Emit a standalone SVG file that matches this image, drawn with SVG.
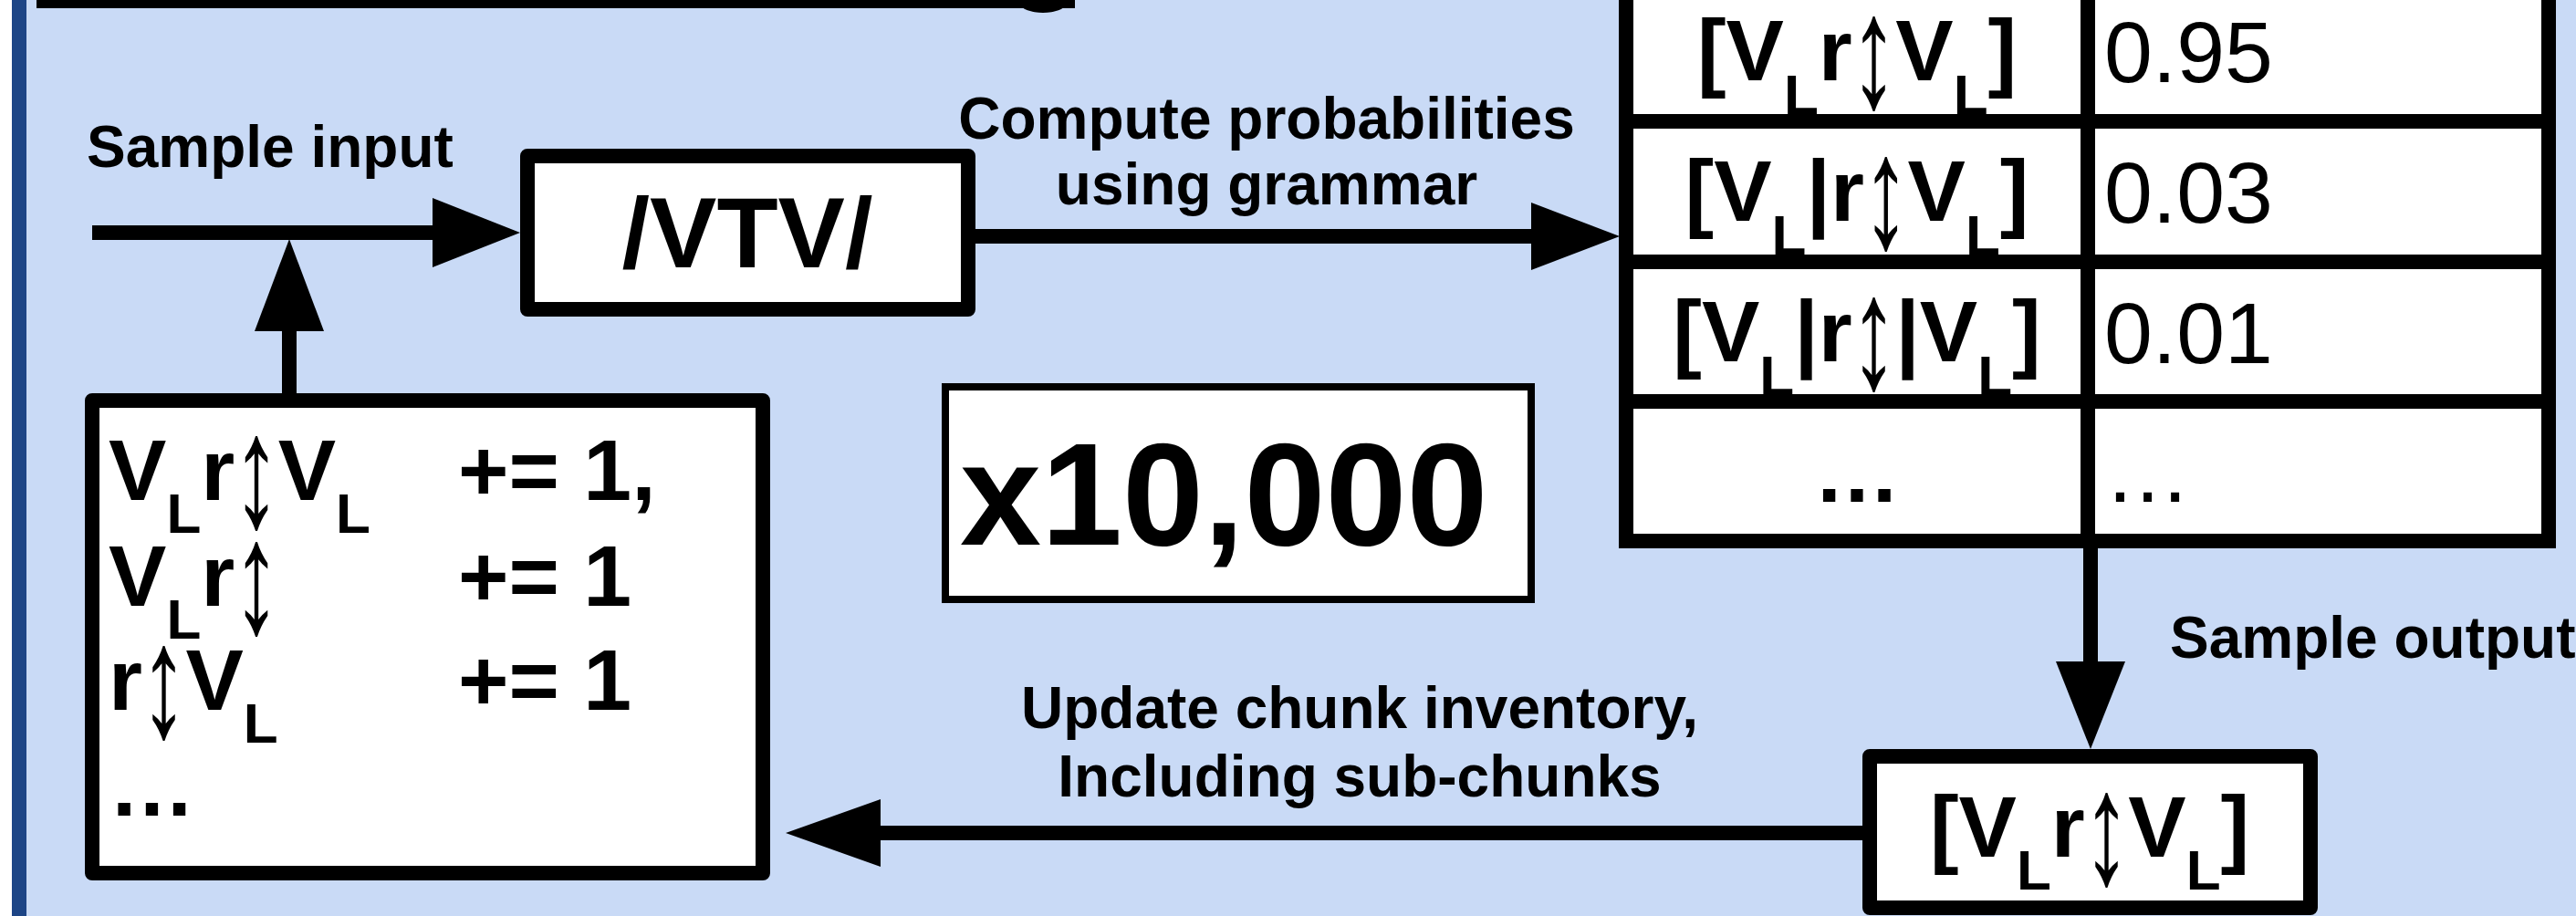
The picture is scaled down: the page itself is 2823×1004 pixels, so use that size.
<svg xmlns="http://www.w3.org/2000/svg" width="2823" height="1004" viewBox="0 0 2823 1004">
  <style>
    text { font-family: "Liberation Sans", Arial, "DejaVu Sans", sans-serif; fill: #000; }
    .lbl { font-size: 64px; font-weight: bold; }
    .sym { font-size: 95px; font-weight: bold; }
    .sub { font-size: 62px; }
    .ud { font-size: 95px; font-weight: normal; text-anchor: middle; }
    .num { font-size: 95px; font-weight: normal; }
    .box { fill: #fff; stroke: #000; stroke-width: 16; stroke-linejoin: round; }
    .grid { fill: none; stroke: #000; stroke-width: 16; }
    .wire { stroke: #000; stroke-width: 16; fill: none; }
    .head { fill: #000; }
  </style>

  <!-- page background and left rule -->
  <rect x="0" y="0" width="2823" height="1004" fill="#fff"/>
  <rect x="29" y="0" width="2794" height="1004" fill="#c9daf6"/>
  <rect x="13" y="0" width="16" height="1004" fill="#1d4586"/>

  <!-- foot of the heading bar above -->
  <ellipse cx="1143" cy="5" rx="24" ry="9" fill="#000"/>
  <rect x="40" y="0" width="1138" height="9" fill="#000"/>

  <!-- connectors -->
  <g id="connectors">
    <!-- sample input into /VTV/ -->
    <line class="wire" x1="101" y1="255" x2="476" y2="255" stroke-width="17"/>
    <polygon class="head" points="474,217 570,255 474,293"/>
    <!-- inventory feeds the input -->
    <line class="wire" x1="317" y1="432" x2="317" y2="360"/>
    <polygon class="head" points="279,363 317,262 355,363"/>
    <!-- /VTV/ to probability table -->
    <line class="wire" x1="1069" y1="259" x2="1680" y2="259"/>
    <polygon class="head" points="1678,222 1775,259 1678,296"/>
    <!-- table to sampled output -->
    <line class="wire" x1="2291" y1="600" x2="2291" y2="728"/>
    <polygon class="head" points="2253,725 2291,821 2329,725"/>
    <!-- output back to inventory -->
    <line class="wire" x1="2042" y1="913" x2="962" y2="913"/>
    <polygon class="head" points="965,876 861,913 965,950"/>
  </g>

  <!-- connector labels -->
  <g id="labels">
    <text class="lbl" x="95" y="183">Sample input</text>
    <text class="lbl" x="1388" y="152" text-anchor="middle">Compute probabilities</text>
    <text class="lbl" x="1388" y="224" text-anchor="middle">using grammar</text>
    <text class="lbl" x="2378" y="721">Sample output</text>
    <text class="lbl" x="1490" y="798" text-anchor="middle">Update chunk inventory,</text>
    <text class="lbl" x="1490" y="873" text-anchor="middle">Including sub-chunks</text>
  </g>

  <!-- input form -->
  <g id="node-input">
    <rect class="box" x="578" y="171" width="483" height="168"/>
    <text x="819" y="293" text-anchor="middle" style="font-size:110px;font-weight:bold">/VTV/</text>
  </g>

  <!-- chunk inventory; the tall ↕ marks sit in the gaps left by dx -->
  <g id="node-inventory">
    <rect class="box" x="101" y="439" width="735" height="518"/>
    <text class="sym" x="119" y="548">V<tspan class="sub" dy="36">L</tspan><tspan dy="-36">r</tspan><tspan dx="47.5">V</tspan><tspan class="sub" dy="36">L</tspan></text>
    <text class="ud" transform="translate(281,577) scale(1.1,1.85)">↕</text>
    <text class="sym" x="502" y="548">+= 1,</text>
    <text class="sym" x="119" y="664">V<tspan class="sub" dy="36">L</tspan><tspan dy="-36">r</tspan></text>
    <text class="ud" transform="translate(281,693) scale(1.1,1.85)">↕</text>
    <text class="sym" x="502" y="664">+= 1</text>
    <text class="sym" x="119" y="778">r<tspan dx="47.5">V</tspan><tspan class="sub" dy="36">L</tspan></text>
    <text class="ud" transform="translate(179.7,807) scale(1.1,1.85)">↕</text>
    <text class="sym" x="502" y="778">+= 1</text>
    <text class="sym" x="119" y="894">…</text>
  </g>

  <!-- iteration count -->
  <g id="node-count">
    <rect x="1036" y="424" width="642" height="233" fill="#fff" stroke="#000" stroke-width="8"/>
    <text x="1052" y="597" style="font-size:160px;font-weight:bold">x10,000</text>
  </g>

  <!-- probability table -->
  <g id="node-table">
    <rect x="1790" y="-40" width="1003" height="633" fill="#fff"/>
    <rect class="grid" x="1782" y="-40" width="1011" height="633"/>
    <line class="grid" x1="1782" y1="133" x2="2793" y2="133" stroke-width="15"/>
    <line class="grid" x1="1782" y1="287" x2="2793" y2="287" stroke-width="15"/>
    <line class="grid" x1="1782" y1="440" x2="2793" y2="440" stroke-width="15"/>
    <line class="grid" x1="2288" y1="-40" x2="2288" y2="593"/>

    <text class="sym" x="1859.9" y="88">[V<tspan class="sub" dy="37">L</tspan><tspan dy="-37">r</tspan><tspan dx="47.5">V</tspan><tspan class="sub" dy="37">L</tspan><tspan dy="-37">]</tspan></text>
    <text class="ud" transform="translate(2053.5,117) scale(1.1,1.85)">↕</text>
    <text class="num" x="2306" y="90">0.95</text>

    <text class="sym" x="1846.6" y="242">[V<tspan class="sub" dy="37">L</tspan><tspan dy="-37">|r</tspan><tspan dx="47.5">V</tspan><tspan class="sub" dy="37">L</tspan><tspan dy="-37">]</tspan></text>
    <text class="ud" transform="translate(2066.8,271) scale(1.1,1.85)">↕</text>
    <text class="num" x="2306" y="244">0.03</text>

    <text class="sym" x="1833.3" y="396">[V<tspan class="sub" dy="37">L</tspan><tspan dy="-37">|r</tspan><tspan dx="47.5">|V</tspan><tspan class="sub" dy="37">L</tspan><tspan dy="-37">]</tspan></text>
    <text class="ud" transform="translate(2053.5,425) scale(1.1,1.85)">↕</text>
    <text class="num" x="2306" y="398">0.01</text>

    <text class="sym" x="2035" y="550" text-anchor="middle">…</text>
    <text class="num" x="2306" y="550">…</text>
  </g>

  <!-- sampled output -->
  <g id="node-output">
    <rect class="box" x="2049" y="829" width="483" height="166"/>
    <text class="sym" x="2114.9" y="939">[V<tspan class="sub" dy="36">L</tspan><tspan dy="-36">r</tspan><tspan dx="47.5">V</tspan><tspan class="sub" dy="36">L</tspan><tspan dy="-36">]</tspan></text>
    <text class="ud" transform="translate(2308.5,968) scale(1.1,1.85)">↕</text>
  </g>
</svg>
